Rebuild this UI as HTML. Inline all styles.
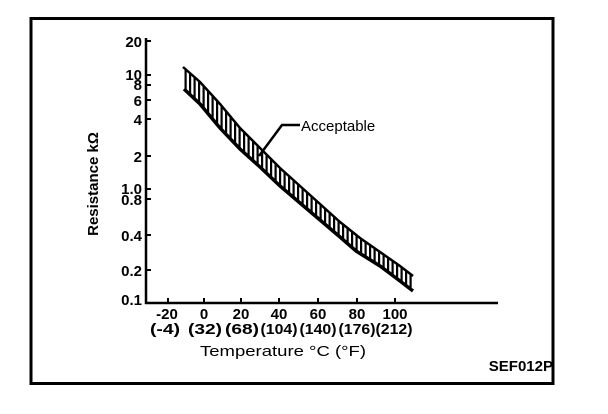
<!DOCTYPE html>
<html><head><style>
html,body{margin:0;padding:0;background:#fff;}
svg{display:block;}
text{font-family:"Liberation Sans",Arial,sans-serif;fill:#000;font-weight:bold;}
</style></head><body>
<svg width="608" height="414" viewBox="0 0 608 414" xmlns="http://www.w3.org/2000/svg">
<defs>
<pattern id="h" width="4.5" height="20" patternUnits="userSpaceOnUse">
<rect x="0" y="0" width="2.2" height="20" fill="#000"/>
</pattern>
<clipPath id="band">
<path d="M183,67 L200,82 L220,104 L240,128 L260,148 L280,168 L300,186 L320,204 L340,222 L360,238 L380,252 L400,266 L413,276 L413,291 L400,281 L380,266 L356,251 L340,237 L320,220 L300,203 L280,186 L260,167 L240,149 L220,128 L200,104 L184,89 Z"/>
</clipPath>
</defs>
<rect x="31" y="18.5" width="522" height="365" fill="none" stroke="#000" stroke-width="3"/>
<line x1="146" y1="38" x2="146" y2="304" stroke="#000" stroke-width="2.5"/>
<line x1="145" y1="303" x2="498" y2="303" stroke="#000" stroke-width="2.5"/>
<g stroke="#000" stroke-width="2">
<line x1="146" y1="41" x2="151" y2="41"/>
<line x1="146" y1="75" x2="151" y2="75"/>
<line x1="146" y1="85" x2="151" y2="85"/>
<line x1="146" y1="100" x2="151" y2="100"/>
<line x1="146" y1="119" x2="151" y2="119"/>
<line x1="146" y1="156" x2="151" y2="156"/>
<line x1="146" y1="189" x2="151" y2="189"/>
<line x1="146" y1="199" x2="151" y2="199"/>
<line x1="146" y1="235" x2="151" y2="235"/>
<line x1="146" y1="270" x2="151" y2="270"/>
<line x1="168" y1="298" x2="168" y2="303"/>
<line x1="204" y1="298" x2="204" y2="303"/>
<line x1="241" y1="298" x2="241" y2="303"/>
<line x1="279" y1="298" x2="279" y2="303"/>
<line x1="318" y1="298" x2="318" y2="303"/>
<line x1="357" y1="298" x2="357" y2="303"/>
<line x1="395" y1="298" x2="395" y2="303"/>
</g>
<g font-size="15" text-anchor="end">
<text x="142" y="47">20</text>
<text x="142" y="80">10</text>
<text x="142" y="90">8</text>
<text x="142" y="106">6</text>
<text x="142" y="125">4</text>
<text x="142" y="162">2</text>
<text x="142" y="194">1.0</text>
<text x="142" y="205">0.8</text>
<text x="142" y="241">0.4</text>
<text x="142" y="276">0.2</text>
<text x="142" y="305">0.1</text>
</g>
<text x="0" y="0" font-size="15" text-anchor="middle" transform="translate(98,184) rotate(-90)">Resistance  kΩ</text>
<g font-size="15" text-anchor="middle">
<text x="167" y="319">-20</text><text x="165" y="334" textLength="30" lengthAdjust="spacingAndGlyphs">(-4)</text>
<text x="204" y="319">0</text><text x="205" y="334" textLength="34" lengthAdjust="spacingAndGlyphs">(32)</text>
<text x="241" y="319">20</text><text x="242" y="334" textLength="34" lengthAdjust="spacingAndGlyphs">(68)</text>
<text x="279" y="319">40</text><text x="279" y="334" textLength="37" lengthAdjust="spacingAndGlyphs">(104)</text>
<text x="318" y="319">60</text><text x="318" y="334" textLength="37" lengthAdjust="spacingAndGlyphs">(140)</text>
<text x="357" y="319">80</text><text x="357" y="334" textLength="37" lengthAdjust="spacingAndGlyphs">(176)</text>
<text x="395" y="319">100</text><text x="394" y="334" textLength="37" lengthAdjust="spacingAndGlyphs">(212)</text>
<text x="283" y="356" style="font-weight:normal" textLength="166" lengthAdjust="spacingAndGlyphs">Temperature °C (°F)</text>
</g>
<text x="553" y="371" font-size="15" text-anchor="end">SEF012P</text>
<rect x="180" y="60" width="240" height="240" fill="url(#h)" clip-path="url(#band)"/>
<path d="M183,67 L200,82 L220,104 L240,128 L260,148 L280,168 L300,186 L320,204 L340,222 L360,238 L380,252 L400,266 L413,276" fill="none" stroke="#000" stroke-width="2.5"/>
<path d="M184,89 L200,104 L220,128 L240,149 L260,167 L280,186 L300,203 L320,220 L340,237 L356,251 L380,266 L400,281 L413,291" fill="none" stroke="#000" stroke-width="3.5"/>
<polyline points="259,156 282,125 300,125" fill="none" stroke="#000" stroke-width="2.5"/>
<text x="301" y="131" font-size="15" style="font-weight:normal">Acceptable</text>
</svg>
</body></html>
